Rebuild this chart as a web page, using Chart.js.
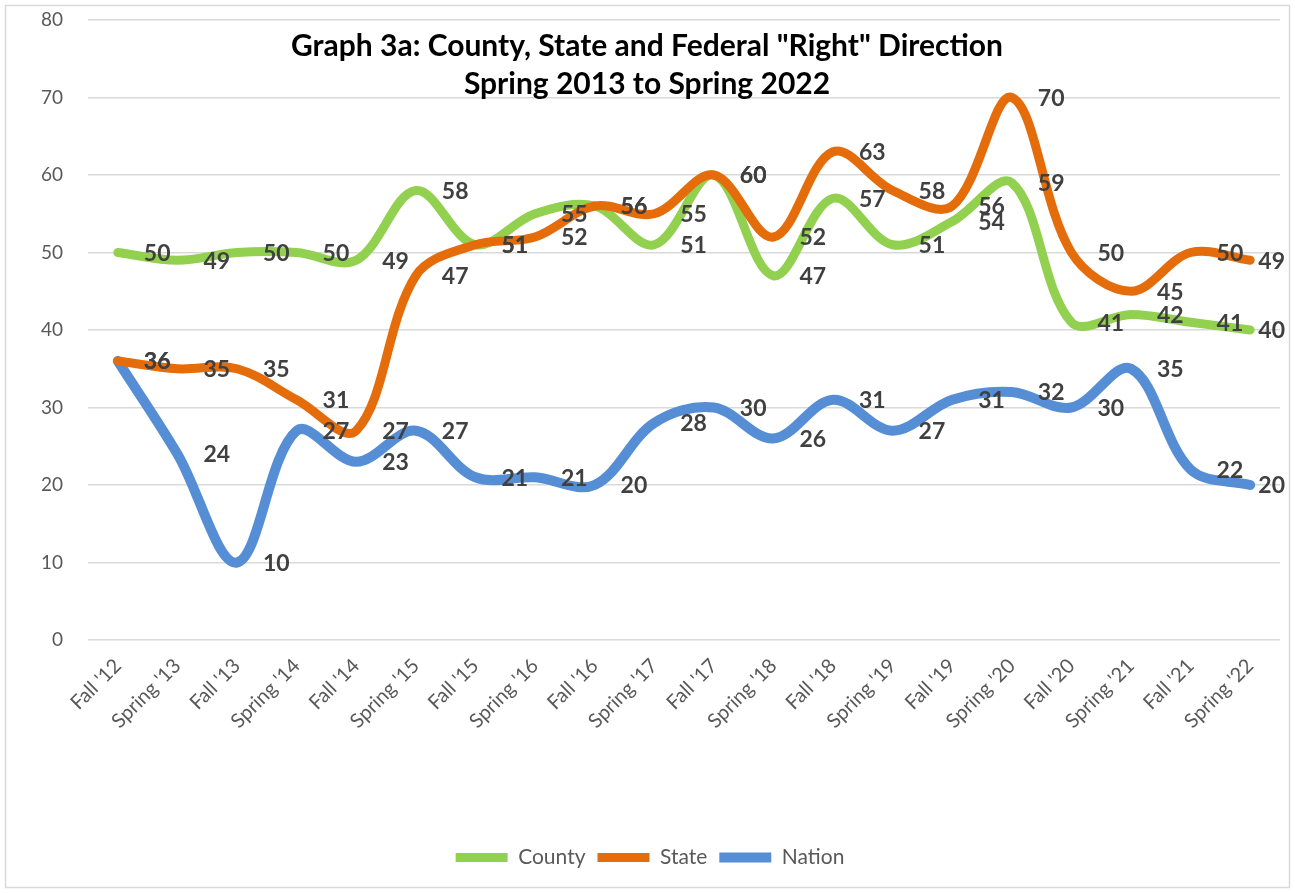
<!DOCTYPE html>
<html>
<head>
<meta charset="utf-8">
<script src="https://cdn.jsdelivr.net/npm/chart.js@4"></script>
<style>
  html, body { margin: 0; padding: 0; background: #fff; }
  #wrap { width: 1295px; height: 893px; position: relative; }
</style>
</head>
<body>
<div id="wrap"><canvas id="graph-3a"></canvas></div>
<script>
var terms = ["Fall '12", "Spring '13", "Fall '13", "Spring '14", "Fall '14", "Spring '15", "Fall '15", "Spring '16", "Fall '16", "Spring '17",
    "Fall '17", "Spring '18", "Fall '18", "Spring '19", "Fall '19", "Spring '20", "Fall '20", "Spring '21", "Fall '21", "Spring '22"];
var county = [50, 49, 50, 50, 49, 58, 51, 55, 56, 51, 60, 47, 57, 51, 54, 59, 41, 42, 41, 40];
var state = [36, 35, 35, 31, 27, 47, 51, 52, 56, 55, 60, 52, 63, 58, 56, 70, 50, 45, 50, 49];
var nation = [36, 24, 10, 27, 23, 27, 21, 21, 20, 28, 30, 26, 31, 27, 31, 32, 30, 35, 22, 20];
var titleLines = ['Graph 3a: County, State and Federal "Right" Direction', 'Spring 2013 to Spring 2022'];

window.addEventListener("load", init);

// frame, overlaid title and the value labels right of each point
const excelBits = {
    id: 'excelBits',
    beforeDraw(chart) {
        const ctx = chart.ctx;
        ctx.save();
        ctx.fillStyle = '#fff';
        ctx.fillRect(0, 0, chart.width, chart.height);
        ctx.strokeStyle = '#d9d9d9';
        ctx.lineWidth = 1.5;
        ctx.strokeRect(5.5, 5.5, chart.width - 11, chart.height - 11);
        ctx.restore();
    },
    afterDatasetsDraw(chart) {
        const ctx = chart.ctx;
        ctx.save();
        ctx.font = "bold 23px Lato";
        ctx.fillStyle = '#404040';
        ctx.textAlign = 'left';
        ctx.textBaseline = 'middle';
        chart.data.datasets.forEach((ds, i) => {
            const meta = chart.getDatasetMeta(i);
            meta.data.forEach((pt, j) => {
                const txt = String(ds.data[j]);
                const w = ctx.measureText(txt).width;
                let x = pt.x + 26;
                if (x + w > chart.width - 10) x = chart.width - 10 - w;
                ctx.fillText(txt, x, pt.y + 1);
            });
        });
        ctx.fillStyle = '#000';
        ctx.textAlign = 'center';
        ctx.font = "bold 30px Lato";
        ctx.fillText(titleLines[0], 647, 46);
        ctx.fillText(titleLines[1], 647, 84);
        ctx.restore();
    }
};

function init() {
    Chart.defaults.font.family = "Lato";
    Chart.defaults.color = '#595959';

    const data = {
        labels: terms,
        datasets: [
            {
                label: 'County',
                data: county,
                borderColor: '#92d050',
                backgroundColor: '#92d050',
                borderWidth: 9,
                order: 3,
            },
            {
                label: 'State',
                data: state,
                borderColor: '#e46c0a',
                backgroundColor: '#e46c0a',
                borderWidth: 9,
                order: 1,
            },
            {
                label: 'Nation',
                data: nation,
                borderColor: '#558ed5',
                backgroundColor: '#558ed5',
                borderWidth: 10,
                order: 2,
            }
        ]
    };

    const config = {
        type: 'line',
        data: data,
        options: {
            responsive: false,
            animation: false,
            layout: { padding: { left: 20, right: 15, top: 20, bottom: 15 } },
            elements: {
                line: { tension: 0.35, borderCapStyle: 'round', borderJoinStyle: 'round' },
                point: { radius: 0, hoverRadius: 0 }
            },
            scales: {
                x: {
                    offset: true,
                    grid: { display: false },
                    border: { display: false },
                    ticks: { font: { size: 20 }, maxRotation: 45, minRotation: 45, autoSkip: false, padding: 6 },
                    afterFit(scale) { scale.height = 195; }
                },
                y: {
                    min: 0,
                    max: 80,
                    ticks: { stepSize: 10, font: { size: 19 }, padding: 2 },
                    grid: { color: '#d9d9d9', lineWidth: 1.5, drawTicks: true, tickLength: 23, tickColor: 'rgba(0,0,0,0)' },
                    border: { display: false },
                    afterFit(scale) { scale.width = 68; }
                }
            },
            plugins: {
                legend: {
                    position: 'bottom',
                    labels: {
                        usePointStyle: true,
                        pointStyleWidth: 52,
                        pointStyle: 'line',
                        boxHeight: 20,
                        font: { size: 21 },
                        color: '#595959',
                        padding: 12,
                        sort: (a, b) => a.datasetIndex - b.datasetIndex
                    }
                },
                title: { display: false },
                tooltip: { enabled: false }
            }
        },
        plugins: [excelBits]
    };
    const canvas = document.getElementById("graph-3a");
    canvas.width = 1295;
    canvas.height = 893;
    const graph3a = new Chart(canvas, config);
}
</script>
</body>
</html>
